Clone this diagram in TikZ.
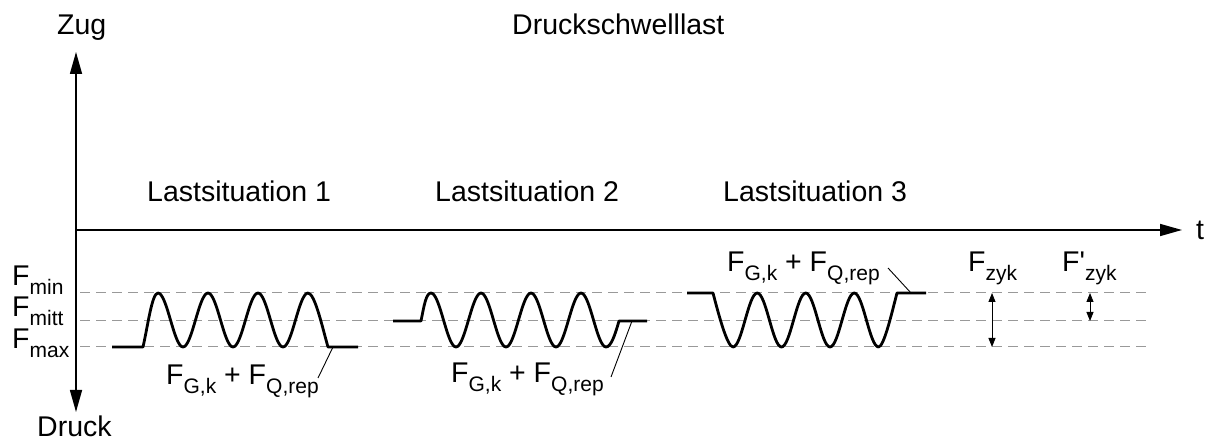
\documentclass[tikz,border=0pt]{standalone}
\usepackage{fontspec}
\setmainfont{Liberation Sans}[Ligatures=TeXOff]
\usetikzlibrary{arrows.meta}
\newcommand\lsub[1]{\raisebox{-0.29em}{\fontsize{21}{21}\selectfont #1}}
\begin{document}
\begin{tikzpicture}[x=1pt,y=-1pt,
  lbl/.style={inner sep=0pt,anchor=base west,font=\fontsize{28.5}{32}\selectfont},
  axis/.style={line width=1.5pt,-{Triangle[length=22pt,width=12pt]}},
  grid/.style={gray!80,line width=1pt,dash pattern=on 10pt off 6pt},
  wave/.style={line width=2.8pt,line join=round},
  leader/.style={line width=0.9pt},
  dim/.style={line width=0.9pt,{Triangle[length=9pt,width=7pt]}-{Triangle[length=9pt,width=7pt]}}]
\useasboundingbox (0,0) rectangle (1213,443);
% axes
\coordinate (o) at (76,230);
\coordinate (up) at (76,52);
\coordinate (down) at (76,412);
\coordinate (right) at (1182,230);
\draw[axis] (o) -- (up);
\draw[axis] (o) -- (down);
\draw[axis] (o) -- (right);
% dashed levels
\coordinate (min0) at (80,293); \coordinate (min1) at (1150,293);
\coordinate (mit0) at (80,321); \coordinate (mit1) at (1150,321);
\coordinate (max0) at (80,347); \coordinate (max1) at (1150,347);
\draw[grid] (min0) -- (min1);
\draw[grid] (mit0) -- (mit1);
\draw[grid] (max0) -- (max1);
% texts
\node[lbl] (zug) at (57,35) {Zug};
\node[lbl] (title) at (512,35) {Druckschwelllast};
\node[lbl] (druck) at (37,437) {Druck};
\node[lbl] (t) at (1196,240) {t};
\node[lbl] (ls1) at (147,202) {Lastsituation 1};
\node[lbl] (ls2) at (435,202) {Lastsituation 2};
\node[lbl] (ls3) at (723,202) {Lastsituation 3};
\node[lbl] (fmin) at (12,286) {F\lsub{min}};
\node[lbl] (fmitt) at (12,317) {F\lsub{mitt}};
\node[lbl] (fmax) at (12,349) {F\lsub{max}};
\node[lbl] (g1) at (166,385) {F\lsub{G,k} + F\lsub{Q,rep}};
\node[lbl] (g2) at (451,383) {F\lsub{G,k} + F\lsub{Q,rep}};
\node[lbl] (g3) at (727,272) {F\lsub{G,k} + F\lsub{Q,rep}};
\node[lbl] (fz) at (968,272) {F\lsub{zyk}};
\node[lbl] (fzp) at (1062,272) {F'\lsub{zyk}};
% wave 1
\draw[wave] (112,347) -- (143,347) .. controls (148,325) and (152,293) .. (158,293)
  .. controls (167.1,293) and (173.9,347) .. (183,347)
  .. controls (192.1,347) and (198.9,293) .. (208,293)
  .. controls (217.1,293) and (223.9,347) .. (233,347)
  .. controls (242.1,347) and (248.9,293) .. (258,293)
  .. controls (267.1,293) and (273.9,347) .. (283,347)
  .. controls (292.1,347) and (298.9,293) .. (308,293)
  .. controls (315,293) and (323,330) .. (328,347) -- (358,347);
% wave 2
\draw[wave] (393,321) -- (421,321) .. controls (424,306) and (426,293) .. (431,293)
  .. controls (440.1,293) and (446.9,347) .. (456,347)
  .. controls (465.1,347) and (471.9,293) .. (481,293)
  .. controls (490.1,293) and (496.9,347) .. (506,347)
  .. controls (515.1,347) and (521.9,293) .. (531,293)
  .. controls (540.1,293) and (546.9,347) .. (556,347)
  .. controls (565.1,347) and (571.9,293) .. (581,293)
  .. controls (590.1,293) and (596.9,347) .. (606,347)
  .. controls (611,347) and (615,335) .. (619,321) -- (647,321);
% wave 3
\draw[wave] (687,293) -- (713,293) .. controls (718,312) and (727,347) .. (733,347)
  .. controls (741.8,347) and (748.4,293) .. (757.25,293)
  .. controls (766.1,293) and (772.7,347) .. (781.5,347)
  .. controls (790.3,347) and (796.9,293) .. (805.75,293)
  .. controls (814.6,293) and (821.2,347) .. (830,347)
  .. controls (838.8,347) and (845.4,293) .. (854.25,293)
  .. controls (863.1,293) and (869.7,347) .. (878.5,347)
  .. controls (884,347) and (892,312) .. (897,293) -- (926,293);
% leaders
\coordinate (l1) at (333,347); \coordinate (l1e) at (318,378);
\coordinate (l2) at (632,321); \coordinate (l2e) at (611,377);
\coordinate (l3) at (911,293); \coordinate (l3e) at (888,268);
\draw[leader] (l1) -- (l1e);
\draw[leader] (l2) -- (l2e);
\draw[leader] (l3) -- (l3e);
% dimension arrows
\coordinate (z0) at (992,293); \coordinate (z1) at (992,347);
\coordinate (zp0) at (1090,293); \coordinate (zp1) at (1090,321);
\draw[dim] (z0) -- (z1);
\draw[dim] (zp0) -- (zp1);
\end{tikzpicture}
\end{document}
